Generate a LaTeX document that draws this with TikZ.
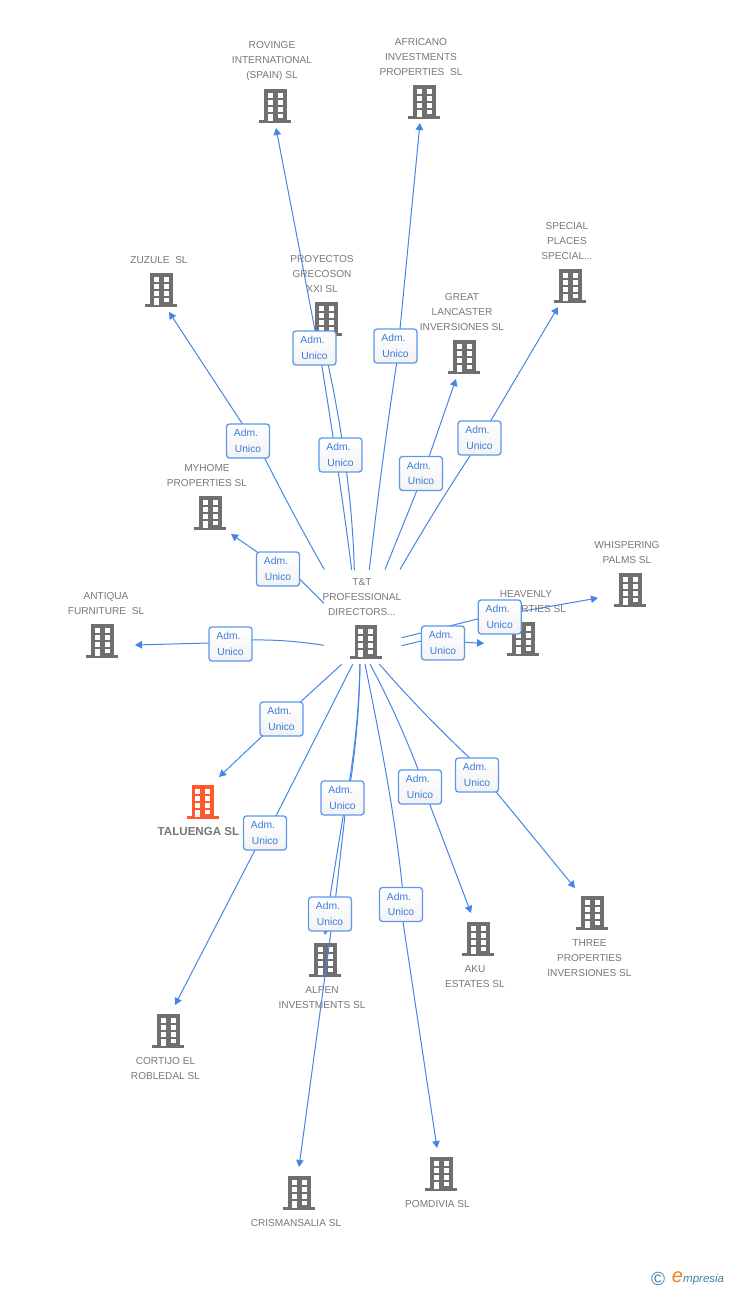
\documentclass[tikz,border=0pt]{standalone}
\usepackage{fontspec}
\setmainfont{Liberation Sans}
\usetikzlibrary{arrows.meta}
\definecolor{edgeblue}{HTML}{4485E5}
\definecolor{boxblue}{HTML}{5C97EC}
\definecolor{txtblue}{HTML}{3A7BDD}
\definecolor{bgrey}{HTML}{6F6F6F}
\definecolor{txtgrey}{HTML}{777777}
\definecolor{orangeb}{HTML}{FF5A2E}
\definecolor{logoteal}{HTML}{3F7F9F}
\definecolor{logoorange}{HTML}{F08020}
\tikzset{
  x=1pt,y=-1pt,
  edge/.style={draw=edgeblue,line width=1pt,line join=round,-{Triangle[length=7pt,width=7.5pt]}},
  admbox/.style={draw=boxblue,line width=1.3pt,rounded corners=3pt,top color=white,bottom color=white!95!black,
    minimum width=43pt,minimum height=34pt,inner sep=0pt,align=center,text=txtblue,
    font=\fontsize{10.3pt}{15.5pt}\selectfont},
  firm/.style={text=txtgrey,align=center,inner sep=0pt,font=\fontsize{10.1pt}{15pt}\selectfont},
  firmbold/.style={text=txtgrey,align=center,inner sep=0pt,font=\fontsize{11.6pt}{15pt}\bfseries\selectfont}
}
\newcommand{\bldg}[3]{%
  \begin{scope}[shift={(#1,#2)}]
    \fill[#3] (-11,0) rectangle (11.5,31);
    \fill[#3] (-16,31) rectangle (16,33.5);
    \foreach \yy in {4,11,18}{
      \fill[white] (-7.5,\yy) rectangle (-2.5,\yy+4.5);
      \fill[white] (2.5,\yy) rectangle (7.5,\yy+4.5);
    }
    \fill[white] (-7.5,25) rectangle (-2.5,31.5);
    \fill[white] (2.5,25) rectangle (7.5,29);
  \end{scope}}
\begin{document}
\begin{tikzpicture}
\useasboundingbox (0,0) rectangle (728,1290);
% firm names
\node[firm] (nrov) at (272,61) {ROVINGE\\INTERNATIONAL\\(SPAIN) SL};
\node[firm] (nafr) at (421,57) {AFRICANO\\INVESTMENTS\\PROPERTIES~~SL};
\node[firm] (nzuz) at (159,260) {ZUZULE~~SL};
\node[firm] (npro) at (322,274) {PROYECTOS\\GRECOSON\\XXI SL};
\node[firm] (ngre) at (462,312) {GREAT\\LANCASTER\\INVERSIONES SL};
\node[firm] (nspe) at (567,241) {SPECIAL\\PLACES\\SPECIAL...};
\node[firm] (nmyh) at (207,475.5) {MYHOME\\PROPERTIES SL};
\node[firm] (nwhi) at (627,552.5) {WHISPERING\\PALMS SL};
\node[firm] (nhea) at (526,601.5) {HEAVENLY\\PROPERTIES SL};
\node[firm] (nant) at (106,603.5) {ANTIQUA\\FURNITURE~~SL};
\node[firm] (ntt) at (362,597) {T\&T\\PROFESSIONAL\\DIRECTORS...};
\node[firmbold] (ntal) at (198.5,831) {TALUENGA SL};
\node[firm] (ncor) at (165.5,1068.5) {CORTIJO EL\\ROBLEDAL SL};
\node[firm] (nalp) at (322,997.5) {ALPEN\\INVESTMENTS SL};
\node[firm] (ncri) at (296,1223) {CRISMANSALIA SL};
\node[firm] (npom) at (437.5,1204) {POMDIVIA SL};
\node[firm] (naku) at (475,976.5) {AKU\\ESTATES SL};
\node[firm] (nthr) at (589.5,958) {THREE\\PROPERTIES\\INVERSIONES SL};
% buildings
\bldg{275}{89}{bgrey}
\bldg{424}{85}{bgrey}
\bldg{161}{273}{bgrey}
\bldg{326}{302}{bgrey}
\bldg{464}{340}{bgrey}
\bldg{570}{269}{bgrey}
\bldg{210}{496}{bgrey}
\bldg{630}{573}{bgrey}
\bldg{523}{622}{bgrey}
\bldg{365.5}{625}{bgrey}
\bldg{102}{624}{bgrey}
\bldg{202.5}{785}{orangeb}
\bldg{168}{1014}{bgrey}
\bldg{325}{943}{bgrey}
\bldg{299}{1176}{bgrey}
\bldg{441}{1157}{bgrey}
\bldg{478}{922}{bgrey}
\bldg{592}{896}{bgrey}
% label box positions
\coordinate (lrov) at (314.5,348);
\coordinate (lafr) at (395.5,346);
\coordinate (lpro) at (340.5,455);
\coordinate (lgre) at (421,473.5);
\coordinate (lspe) at (479.5,438);
\coordinate (lzuz) at (248,441);
\coordinate (lmyh) at (278,569);
\coordinate (lant) at (230.5,644);
\coordinate (lhea) at (443,643);
\coordinate (lwhi) at (499.7,617);
\coordinate (ltal) at (281.5,719);
\coordinate (lcor) at (265,833);
\coordinate (lalp) at (342.5,798);
\coordinate (lcri) at (330,914);
\coordinate (lpom) at (401,904.5);
\coordinate (laku) at (420,787);
\coordinate (lthr) at (477,775);
% connector ends
\coordinate (srov) at (351.7,570); \coordinate (erov) at (276,128);
\coordinate (safr) at (369.3,570); \coordinate (eafr) at (420,123);
\coordinate (spro) at (354.3,570); \coordinate (epro) at (325,336);
\coordinate (sgre) at (385,569.5); \coordinate (egre) at (456,379);
\coordinate (sspe) at (400,569.5); \coordinate (espe) at (558,307);
\coordinate (szuz) at (324.3,569.5); \coordinate (ezuz) at (169,312);
\coordinate (smyh) at (324,603.3); \coordinate (emyh) at (231,534);
\coordinate (sant) at (324,645.3); \coordinate (eant) at (135,645);
\coordinate (shea) at (401.7,645.7); \coordinate (ehea) at (484,643.3);
\coordinate (swhi) at (401.7,637.7); \coordinate (ewhi) at (598,598);
\coordinate (stal) at (341.7,664.3); \coordinate (etal) at (219,777);
\coordinate (scor) at (352.7,664.3); \coordinate (ecor) at (175,1005);
\coordinate (salp) at (360,664); \coordinate (ealp) at (325,935);
\coordinate (scri) at (360,664); \coordinate (ecri) at (299,1167);
\coordinate (spom) at (365,664); \coordinate (epom) at (437,1148);
\coordinate (saku) at (370,664); \coordinate (eaku) at (471,913);
\coordinate (sthr) at (379.3,664); \coordinate (ethr) at (575,888);
% connectors (bends sit behind the label boxes)
\draw[edge] (srov) .. controls (343.8,507.7) and (333.8,439.3) .. (321.7,365) -- (erov);
\draw[edge] (safr) .. controls (378.8,488.3) and (388,419.3) .. (396.7,363) -- (eafr);
\draw[edge] (spro) .. controls (352.8,509) and (344.2,440.7) .. (328.3,365) -- (epro);
\draw[edge] (sgre) -- (416.7,491) -- (429.3,456) -- (egre);
\draw[edge] (sspe) .. controls (425.6,525.3) and (449,487.5) .. (470,456) -- (espe);
\draw[edge] (szuz) .. controls (303,532) and (283,494.6) .. (264.3,457.3) -- (ezuz);
\draw[edge] (smyh) -- (300,579.3) -- (256.7,551.7) -- (emyh);
\draw[edge] (sant) .. controls (298.2,641.3) and (274.3,639.6) .. (252.3,640) -- (209,643) -- (eant);
\draw[edge] (shea) -- (421,641) -- (464.3,642.3) -- (ehea);
\draw[edge] (swhi) -- (477.7,619) -- (ewhi);
\draw[edge] (stal) -- (300.7,701.7) -- (262.3,736) -- (etal);
\draw[edge] (scor) -- (276,816) -- (255,850) -- (ecor);
\draw[edge] (salp) .. controls (358.9,715) and (353.3,765.3) .. (343.3,815) -- (330,897) -- (ealp);
\draw[edge] (scri) .. controls (359.3,714.7) and (354.3,765) .. (345,815) -- (335.7,897) -- (ecri);
\draw[edge] (spom) .. controls (379.9,737.7) and (394.6,812) .. (402.3,886.7) -- (403,922) -- (epom);
\draw[edge] (saku) .. controls (388.9,699.3) and (405,735.3) .. (418.3,770) -- (430,805) -- (eaku);
\draw[edge] (sthr) .. controls (407.1,696) and (436.8,727) .. (468.3,756.7) -- (496,791.7) -- (ethr);
% label boxes
\foreach \n in {rov,afr,pro,gre,spe,zuz,myh,ant,hea,whi,tal,cor,alp,cri,pom,aku,thr}{
  \node[admbox] (b\n) at (l\n) {\hspace*{-4pt}Adm.\\Unico};
}
% logo
\node[inner sep=0pt,text=logoteal,font=\fontsize{19pt}{19pt}\selectfont] (logoc) at (658,1279) {©};
\node[inner sep=0pt,text=logoorange,font=\fontsize{20pt}{20pt}\itshape\selectfont] (logoe) at (677.5,1277) {e};
\node[inner sep=0pt,text=logoteal,font=\fontsize{11.5pt}{12pt}\itshape\selectfont,anchor=west] (logot) at (683,1279.5) {mpresia};
\end{tikzpicture}
\end{document}
